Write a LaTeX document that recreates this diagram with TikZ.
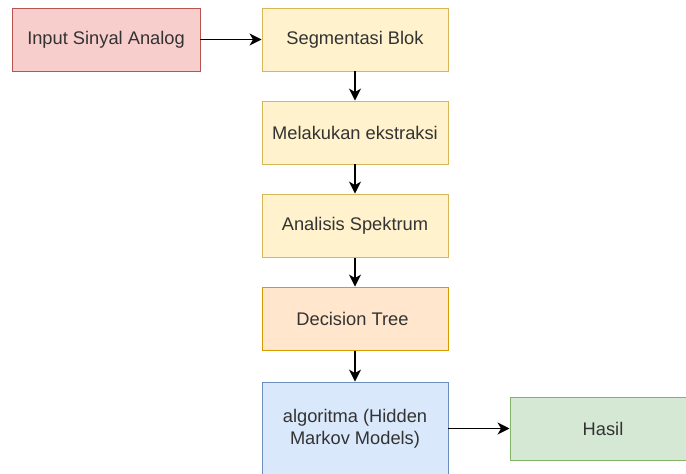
\documentclass[tikz,border=0pt]{standalone}
\usepackage{fontspec}
\setmainfont{Liberation Sans}
\usetikzlibrary{arrows.meta}

\definecolor{merahisi}{HTML}{F8CECC}
\definecolor{merahgaris}{HTML}{B85450}
\definecolor{kuningisi}{HTML}{FFF2CC}
\definecolor{kuninggaris}{HTML}{D6B656}
\definecolor{oranyeisi}{HTML}{FFE6CC}
\definecolor{oranyegaris}{HTML}{D79B00}
\definecolor{biruisi}{HTML}{DAE8FC}
\definecolor{birugaris}{HTML}{6C8EBF}
\definecolor{hijauisi}{HTML}{D5E8D4}
\definecolor{hijaugaris}{HTML}{82B366}
\definecolor{teksabu}{HTML}{333333}

\begin{document}
\begin{tikzpicture}[
        font=\fontsize{13}{15.5}\selectfont,
        box/.style={rectangle, text=teksabu, minimum width=4.65cm, minimum height=1.575cm, line width=0.7pt, inner sep=2pt, align=center},
        input box/.style={box, fill=merahisi, draw=merahgaris, minimum width=4.7cm},
        proses box/.style={box, fill=kuningisi, draw=kuninggaris},
        tree box/.style={box, fill=oranyeisi, draw=oranyegaris},
        hmm box/.style={box, fill=biruisi, draw=birugaris, minimum height=2.325cm},
        hasil box/.style={box, fill=hijauisi, draw=hijaugaris},
        alur/.style={-{Stealth[length=8.5pt, width=8.5pt, inset=2.5pt]}, line width=0.9pt, black},
    ]

    % Batas gambar (ukuran asli 686 x 473)
    \useasboundingbox (0,0) rectangle (17.15,-11.825);

    % Masukan sinyal
    \node[input box] (input) at (2.65, -0.9875) {Input Sinyal Analog};

    % Kolom proses di tengah, jarak antar blok 2.325
    \foreach \nama/\gaya/\teks [count=\idx from 0] in {
        seg/proses box/Segmentasi Blok,
        ekstrak/proses box/Melakukan ekstraksi,
        spektrum/proses box/Analisis Spektrum,
        tree/tree box/Decision Tree
    } {
        \node[\gaya] (\nama) at (8.875, {-0.9875 - 2.325*\idx}) {\teks};
    }

    % Blok algoritma dan hasil
    \node[hmm box] (hmm) at (8.875, -10.7125) {algoritma (Hidden\\Markov Models)};
    \node[hasil box] (hasil) at (15.075, -10.7125) {Hasil};

    % Panah alur
    \draw[alur] (input) -- (seg);
    \foreach \a/\b in {seg/ekstrak, ekstrak/spektrum, spektrum/tree, tree/hmm} {
        \draw[alur] (\a) -- (\b);
    }
    \draw[alur] (hmm) -- (hasil);

\end{tikzpicture}
\end{document}
